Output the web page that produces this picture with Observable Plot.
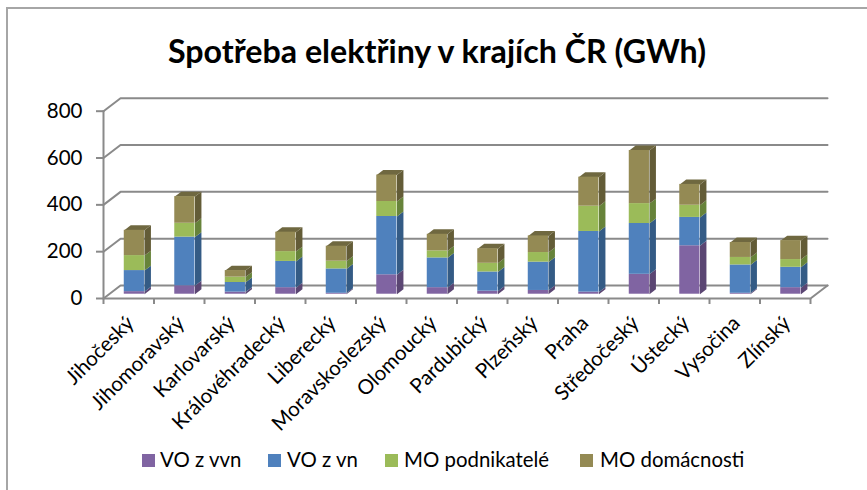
<!DOCTYPE html>
<html><head><meta charset="utf-8">
<style>
html,body{margin:0;padding:0;background:#fff;}
#chart{position:relative;width:867px;height:490px;overflow:hidden;font-family:Lato,sans-serif;color:#000;}
#frame{position:absolute;left:6px;top:7px;width:880px;height:500px;border-left:2px solid #a6a6a6;border-top:2px solid #a6a6a6;pointer-events:none;}
#title{position:absolute;left:0;top:0;width:874px;height:90px;line-height:102px;text-align:center;font-size:32.2px;font-weight:700;white-space:nowrap;}
#plot{position:absolute;left:0;top:90px;}
#legend{position:absolute;left:0;top:440px;width:867px;height:40px;font-size:20.4px;}
#legend span{position:absolute;top:7px;white-space:nowrap;}
#legend i{position:absolute;top:14px;width:13px;height:13px;}
</style>
<script src="https://cdn.jsdelivr.net/npm/d3@7"></script>
<script src="https://cdn.jsdelivr.net/npm/@observablehq/plot@0.6"></script>
</head><body>
<div id="chart">
<div id="title">Spotřeba elektřiny v krajích ČR (GWh)</div>
<div id="plot"></div>
<div id="legend"></div>
<div id="frame"></div>
</div>
<script>
const regions = ["Jihočeský","Jihomoravský","Karlovarský","Královéhradecký","Liberecký","Moravskoslezský","Olomoucký","Pardubický","Plzeňský","Praha","Středočeský","Ústecký","Vysočina","Zlínský"];
const seriesNames = ["VO z vvn","VO z vn","MO podnikatelé","MO domácnosti"];
const voVvn = [11,36,9,28,4,83,28,13,16,9,85,207,4,28];
const voVn = [90,208,41,112,104,249,127,82,121,259,217,121,121,87];
const moPodnikatele = [64,59,23,42,33,64,30,37,41,108,85,52,32,33];
const moDomacnosti = [108,114,28,83,64,113,71,62,71,124,227,89,64,81];
const front = ["#8064a2","#4f81bd","#9bbb59","#948a54"];
const side = ["#5b4673","#345b85","#67833a","#635c37"];
const top3d = ["#5b4673","#345b85","#67833a","#6f6840"];
const yTicks = [0,200,400,600,800];
const catTicks = d3.range(15);

// oblique projection: depth expressed in scale units
const depthX = 0.337, depthY = 55.5;
const barWidth = 0.4, barNear = 0.33, barFar = 0.71;
const project = (x, y, z) => ({x: x + z * depthX, y: y + z * depthY});

const values = [voVvn, voVn, moPodnikatele, moDomacnosti];
const fronts = [], polys = [];
regions.forEach((r, i) => {
  let base = 0;
  const xa = i + 0.5 - barWidth / 2, xb = i + 0.5 + barWidth / 2;
  values.forEach((v, s) => {
    const lo = base, hi = base + v[i];
    base = hi;
    const a = project(xa, lo, barNear), b = project(xb, hi, barNear);
    fronts.push({x1: a.x, x2: b.x, y1: a.y, y2: b.y, s});
    const sideFace = [project(xb,lo,barNear), project(xb,lo,barFar), project(xb,hi,barFar), project(xb,hi,barNear)];
    polys.push(...sideFace.map(p => ({...p, id: `side-${i}-${s}`, color: side[s]})));
    if (s === 3) {
      const topFace = [project(xa,hi,barNear), project(xb,hi,barNear), project(xb,hi,barFar), project(xa,hi,barFar)];
      polys.push(...topFace.map(p => ({...p, id: `top-${i}`, color: top3d[s]})));
    }
  });
});

// chart walls: back gridlines, left wall diagonals, floor
const grid = [];
yTicks.forEach(t => {
  grid.push({...project(0,t,0), id:`g${t}`}, {...project(0,t,1), id:`g${t}`}, {...project(14,t,1), id:`g${t}`});
});
grid.push({...project(0,0,0), id:"axisY"}, {...project(0,800,0), id:"axisY"});
grid.push({...project(0,0,0), id:"floor"}, {...project(14,0,0), id:"floor"}, {...project(14,0,1), id:"floor"});

const gray = "#8a8a8a";
const plot = Plot.plot({
  width: 867, height: 350,
  marginTop: 0, marginRight: 39, marginBottom: 142, marginLeft: 103,
  x: {domain: [0, 14], range: [103, 810], axis: null},
  y: {domain: [0, 800], range: [208, 20.7], axis: null},
  style: {background: "transparent", fontFamily: "Lato, sans-serif", overflow: "visible"},
  marks: [
    Plot.line(grid, {x: "x", y: "y", z: "id", stroke: gray, strokeWidth: 2, curve: "linear"}),
    Plot.axisY({ticks: yTicks, tickSize: 7, tickPadding: 14, stroke: gray, fill: "#000", color: "#000", strokeWidth: 2, fontSize: 20.5, label: null, tickFormat: d => d}),
    Plot.axisX({ticks: catTicks, tickSize: 6, stroke: gray, strokeWidth: 2, label: null, tickFormat: () => ""}),
    Plot.line(polys, {x: "x", y: "y", z: "id", fill: "color", stroke: null, curve: "linear-closed"}),
    Plot.rect(fronts, {x1: "x1", x2: "x2", y1: "y1", y2: "y2", fill: d => front[d.s]}),
    Plot.text(regions, {x: (d, i) => i + 0.63, frameAnchor: "bottom", dy: 26, text: d => d, rotate: -45, textAnchor: "end", fontSize: 20.5, fill: "#000"})
  ]
});
document.getElementById("plot").appendChild(plot);

const swatchX = [142, 268, 385, 580], labelX = [160, 287, 404, 600];
const legend = document.getElementById("legend");
seriesNames.forEach((n, i) => {
  const sw = document.createElement("i");
  sw.style.left = swatchX[i] + "px"; sw.style.background = front[i];
  const t = document.createElement("span");
  t.style.left = labelX[i] + "px"; t.textContent = n;
  legend.append(sw, t);
});
</script>
</body></html>
